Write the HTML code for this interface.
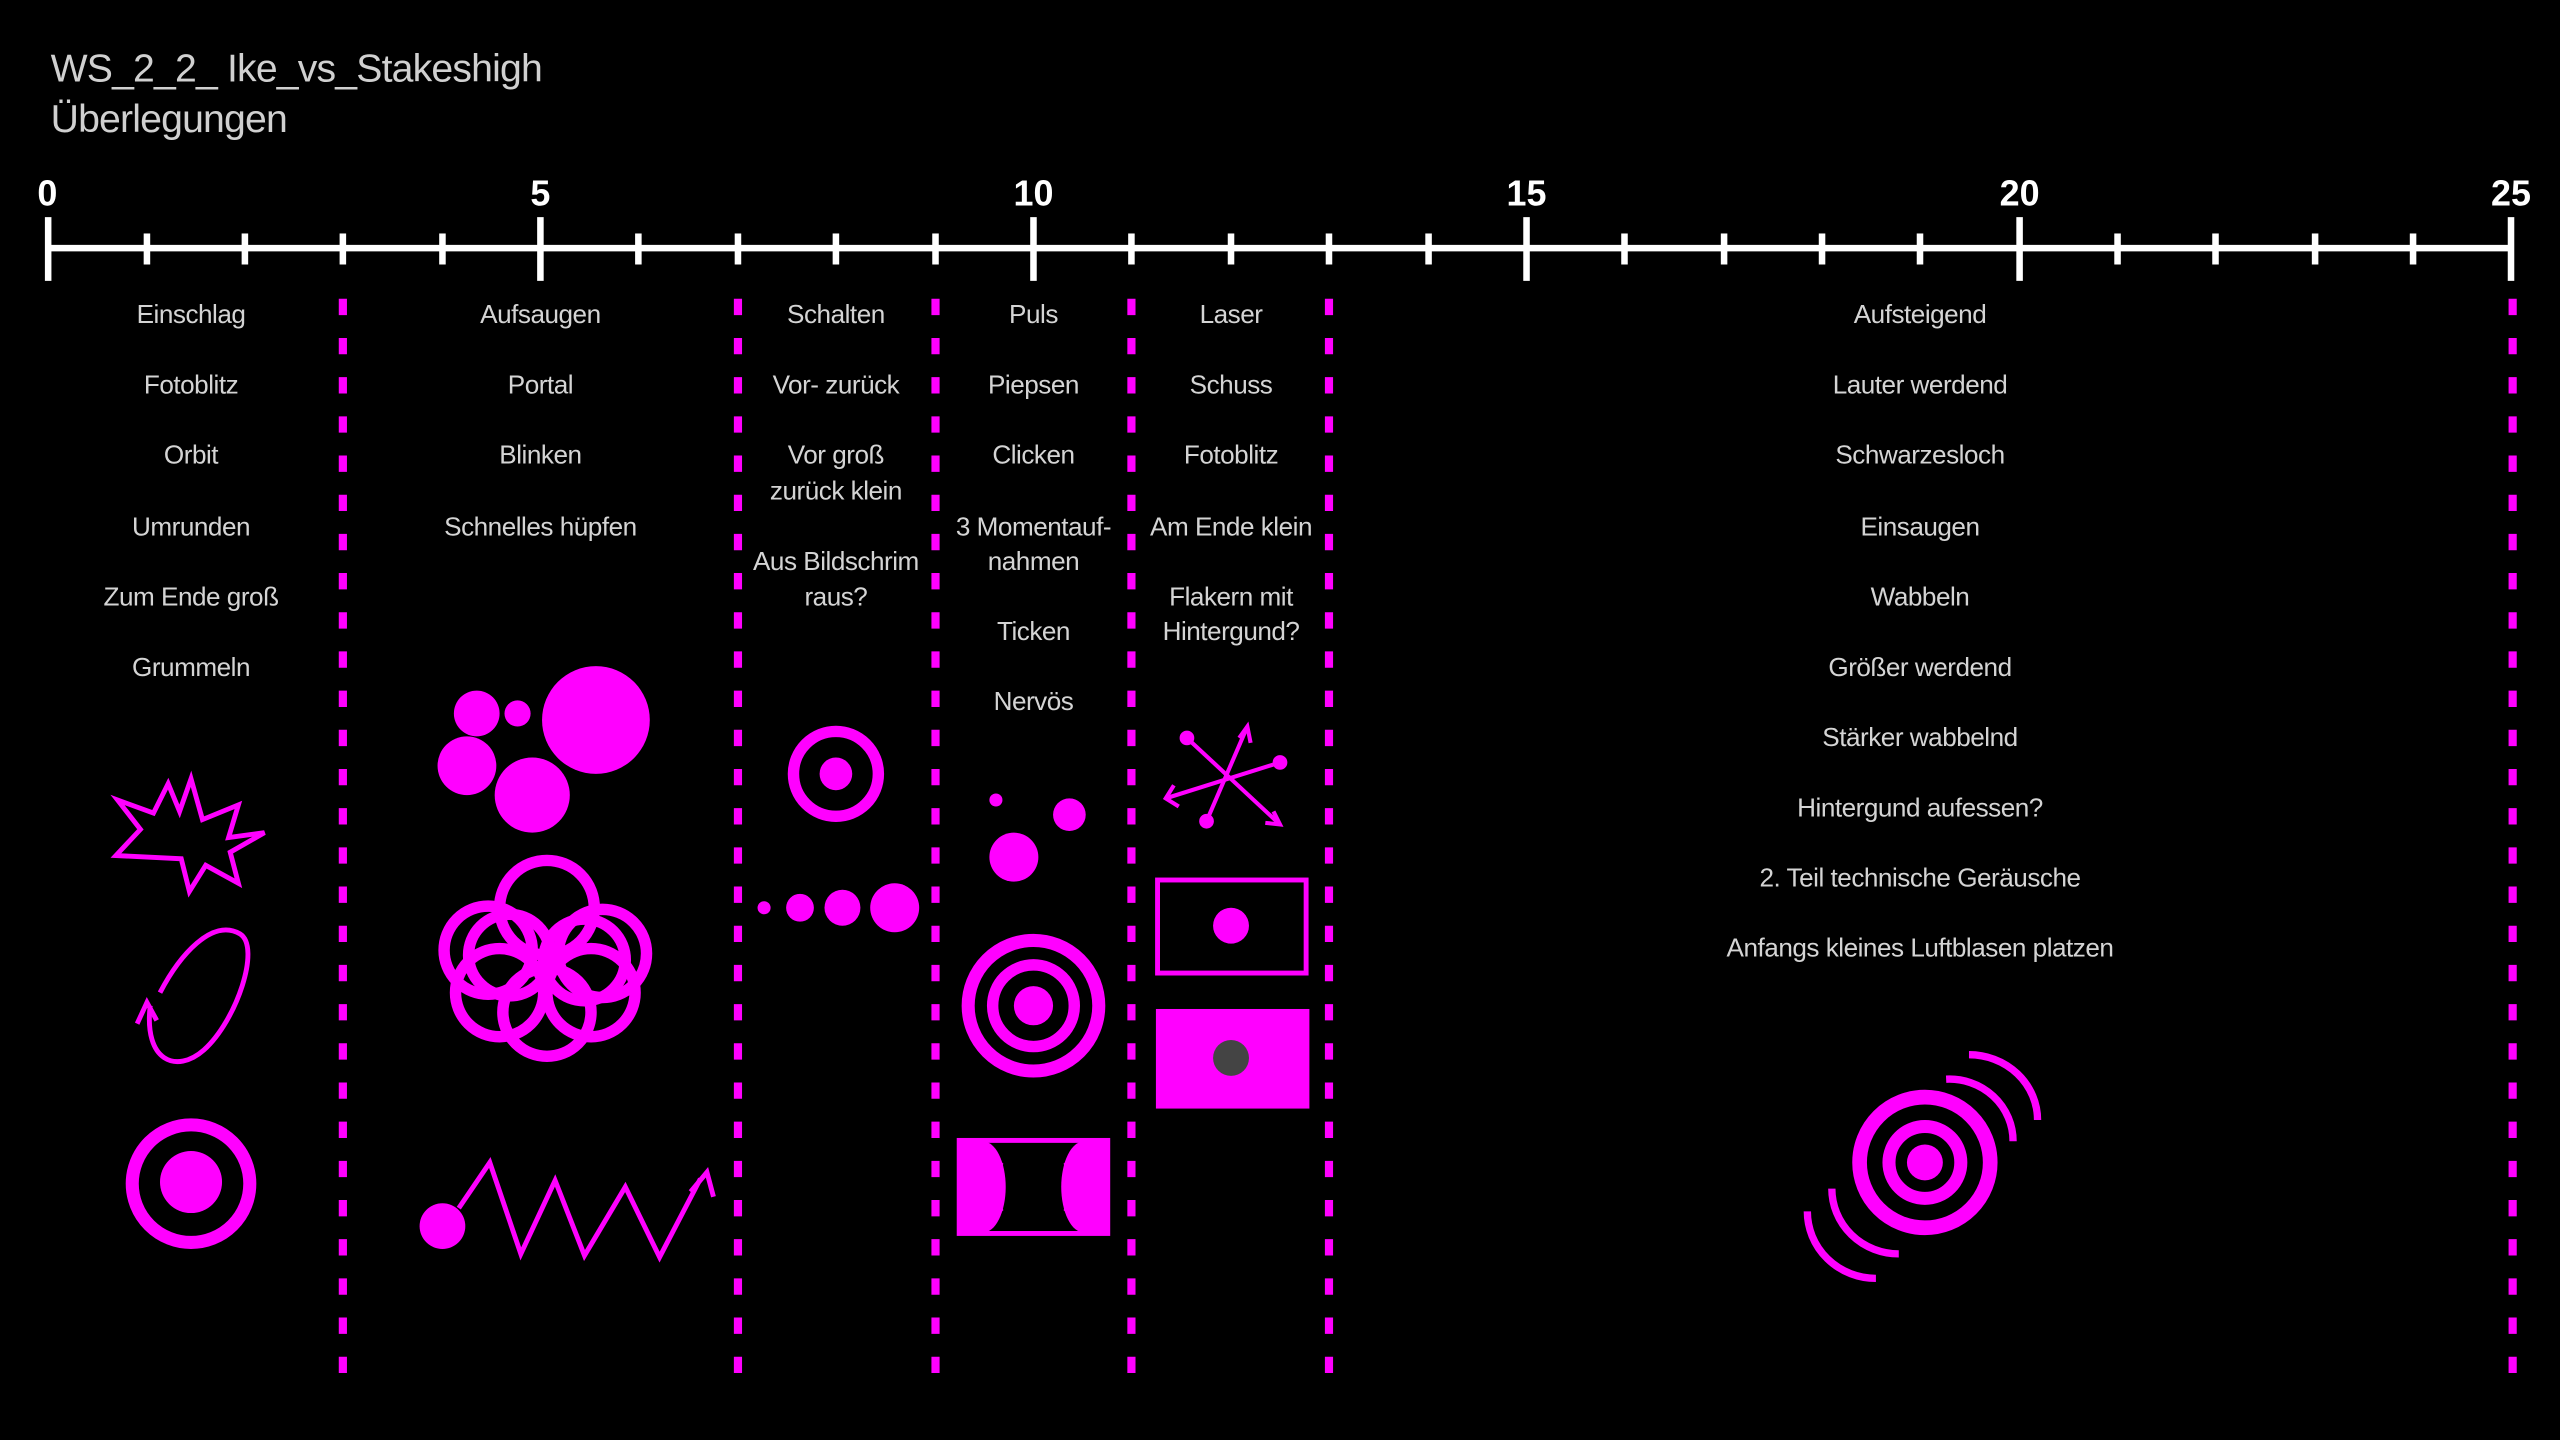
<!DOCTYPE html>
<html><head><meta charset="utf-8"><style>
html,body{margin:0;padding:0;background:#000;width:2560px;height:1440px;overflow:hidden}
svg{display:block}
text{font-family:"Liberation Sans",sans-serif}
.l{fill:#d4d4d4;font-size:16px;text-anchor:middle;letter-spacing:-0.3px}
.n{fill:#fff;font-size:22px;font-weight:bold;text-anchor:middle}
</style></head><body>
<svg width="2560" height="1440" viewBox="0 0 1568 882" xmlns="http://www.w3.org/2000/svg">
<rect width="1568" height="882" fill="#000"/>
<text x="31" y="50" fill="#d0d0d0" font-size="24" letter-spacing="-0.5">WS_2_2_ Ike_vs_Stakeshigh</text>
<text x="31" y="81" fill="#d0d0d0" font-size="24" letter-spacing="-0.5">Überlegungen</text>
<g stroke="#fff" stroke-width="4">
<line x1="29" y1="152" x2="1539" y2="152"/>
<line x1="29.5" y1="133" x2="29.5" y2="172"/><line x1="331" y1="133" x2="331" y2="172"/><line x1="633" y1="133" x2="633" y2="172"/><line x1="935" y1="133" x2="935" y2="172"/><line x1="1237" y1="133" x2="1237" y2="172"/><line x1="1538" y1="133" x2="1538" y2="172"/>
<line x1="90" y1="143" x2="90" y2="162"/><line x1="150" y1="143" x2="150" y2="162"/><line x1="210" y1="143" x2="210" y2="162"/><line x1="271" y1="143" x2="271" y2="162"/>
<line x1="391" y1="143" x2="391" y2="162"/><line x1="452" y1="143" x2="452" y2="162"/><line x1="512" y1="143" x2="512" y2="162"/><line x1="573" y1="143" x2="573" y2="162"/>
<line x1="693" y1="143" x2="693" y2="162"/><line x1="754" y1="143" x2="754" y2="162"/><line x1="814" y1="143" x2="814" y2="162"/><line x1="875" y1="143" x2="875" y2="162"/>
<line x1="995" y1="143" x2="995" y2="162"/><line x1="1056" y1="143" x2="1056" y2="162"/><line x1="1116" y1="143" x2="1116" y2="162"/><line x1="1176" y1="143" x2="1176" y2="162"/>
<line x1="1297" y1="143" x2="1297" y2="162"/><line x1="1357" y1="143" x2="1357" y2="162"/><line x1="1418" y1="143" x2="1418" y2="162"/><line x1="1478" y1="143" x2="1478" y2="162"/>
</g>
<text class="n" x="29" y="126">0</text><text class="n" x="331" y="126">5</text><text class="n" x="633" y="126">10</text><text class="n" x="935" y="126">15</text><text class="n" x="1237" y="126">20</text><text class="n" x="1538" y="126">25</text>
<g stroke="#ff00ff" stroke-width="5" stroke-dasharray="10 14">
<line x1="210" y1="183" x2="210" y2="855"/><line x1="452" y1="183" x2="452" y2="855"/><line x1="573" y1="183" x2="573" y2="855"/><line x1="693" y1="183" x2="693" y2="855"/><line x1="814" y1="183" x2="814" y2="855"/><line x1="1539" y1="183" x2="1539" y2="855"/>
</g>
<g>
<text class="l" x="117" y="198">Einschlag</text><text class="l" x="117" y="241">Fotoblitz</text><text class="l" x="117" y="284">Orbit</text><text class="l" x="117" y="328">Umrunden</text><text class="l" x="117" y="371">Zum Ende groß</text><text class="l" x="117" y="414">Grummeln</text>
<text class="l" x="331" y="198">Aufsaugen</text><text class="l" x="331" y="241">Portal</text><text class="l" x="331" y="284">Blinken</text><text class="l" x="331" y="328">Schnelles hüpfen</text>
<text class="l" x="512" y="198">Schalten</text><text class="l" x="512" y="241">Vor- zurück</text><text class="l" x="512" y="284">Vor groß</text><text class="l" x="512" y="306">zurück klein</text><text class="l" x="512" y="349">Aus Bildschrim</text><text class="l" x="512" y="371">raus?</text>
<text class="l" x="633" y="198">Puls</text><text class="l" x="633" y="241">Piepsen</text><text class="l" x="633" y="284">Clicken</text><text class="l" x="633" y="328">3 Momentauf-</text><text class="l" x="633" y="349">nahmen</text><text class="l" x="633" y="392">Ticken</text><text class="l" x="633" y="435">Nervös</text>
<text class="l" x="754" y="198">Laser</text><text class="l" x="754" y="241">Schuss</text><text class="l" x="754" y="284">Fotoblitz</text><text class="l" x="754" y="328">Am Ende klein</text><text class="l" x="754" y="371">Flakern mit</text><text class="l" x="754" y="392">Hintergund?</text>
<text class="l" x="1176" y="198">Aufsteigend</text><text class="l" x="1176" y="241">Lauter werdend</text><text class="l" x="1176" y="284">Schwarzesloch</text><text class="l" x="1176" y="328">Einsaugen</text><text class="l" x="1176" y="371">Wabbeln</text><text class="l" x="1176" y="414">Größer werdend</text><text class="l" x="1176" y="457">Stärker wabbelnd</text><text class="l" x="1176" y="500">Hintergund aufessen?</text><text class="l" x="1176" y="543">2. Teil technische Geräusche</text><text class="l" x="1176" y="586">Anfangs kleines Luftblasen platzen</text>
</g>
<polygon points="117,477 124,502 146,493 140,513 162,510 141,522 146,541 126,530 116,546 111,526 71,524 86,508 72,490 94,498 103,480 110,497" fill="none" stroke="#ff00ff" stroke-width="3"/>
<g fill="none" stroke="#ff00ff" stroke-width="3">
<path d="M98,608 C110,585 130,562 147,572 C160,580 145,625 125,643 C108,658 88,650 92,616"/>
<path d="M84,627 L90,614 L96,625"/>
</g>
<circle cx="117" cy="725" r="36" fill="none" stroke="#ff00ff" stroke-width="8"/>
<circle cx="117" cy="724" r="19" fill="#ff00ff"/>
<g fill="#ff00ff">
<circle cx="365" cy="441" r="33"/><circle cx="292" cy="437" r="14"/><circle cx="317" cy="437" r="8"/><circle cx="286" cy="469" r="18"/><circle cx="326" cy="487" r="23"/>
<circle cx="271" cy="751" r="14"/>
</g>
<g fill="none" stroke="#ff00ff" stroke-width="7">
<circle cx="335" cy="556" r="29"/><circle cx="299" cy="582" r="27"/><circle cx="369" cy="584" r="27"/><circle cx="306" cy="608" r="27"/><circle cx="362" cy="608" r="27"/><circle cx="335" cy="620" r="27"/><circle cx="312" cy="585" r="25"/><circle cx="358" cy="588" r="25"/>
</g>
<g fill="none" stroke="#ff00ff" stroke-width="3">
<polyline points="281,740 300,712 319,768 340,723 358,769 383,727 404,770 429,722"/>
<path d="M423,730 L433,718 L437,733"/>
</g>
<circle cx="512" cy="474" r="26" fill="none" stroke="#ff00ff" stroke-width="7"/>
<circle cx="512" cy="474" r="10" fill="#ff00ff"/>
<g fill="#ff00ff"><circle cx="468" cy="556" r="4"/><circle cx="490" cy="556" r="8.5"/><circle cx="516" cy="556" r="11"/><circle cx="548" cy="556" r="15"/></g>
<g fill="#ff00ff"><circle cx="610" cy="490" r="4"/><circle cx="655" cy="499" r="10"/><circle cx="621" cy="525" r="15"/></g>
<circle cx="633" cy="616" r="40" fill="none" stroke="#ff00ff" stroke-width="8"/>
<circle cx="633" cy="616" r="25" fill="none" stroke="#ff00ff" stroke-width="7"/>
<circle cx="633" cy="616" r="12" fill="#ff00ff"/>
<rect x="586" y="697" width="94" height="60" fill="#ff00ff"/>
<polygon points="600,700 666,700 650,714 616,714" fill="#000"/>
<polygon points="600,754 666,754 650,740 616,740" fill="#000"/>
<ellipse cx="633" cy="727" rx="22" ry="26" fill="#000"/>
<ellipse cx="602" cy="727" rx="14" ry="28" fill="#ff00ff"/>
<ellipse cx="664" cy="727" rx="14" ry="28" fill="#ff00ff"/>
<g stroke="#ff00ff" stroke-width="2.5" fill="none">
<line x1="727" y1="452" x2="784" y2="505"/><path d="M775,504 L784,505 L780,497"/>
<line x1="784" y1="467" x2="714" y2="489"/><path d="M719,481 L714,489 L722,494"/>
<line x1="739" y1="503" x2="764" y2="445"/><path d="M759,452 L764,445 L766,455"/>
</g>
<g fill="#ff00ff"><circle cx="727" cy="452" r="4.5"/><circle cx="784" cy="467" r="4.5"/><circle cx="739" cy="503" r="4.5"/></g>
<rect x="709" y="539" width="91" height="57" fill="none" stroke="#ff00ff" stroke-width="3"/>
<circle cx="754" cy="567" r="11" fill="#ff00ff"/>
<rect x="708" y="618" width="94" height="61" fill="#ff00ff"/>
<circle cx="754" cy="648" r="11" fill="#444"/>
<circle cx="1179" cy="712" r="40" fill="none" stroke="#ff00ff" stroke-width="9"/>
<circle cx="1179" cy="712" r="22" fill="none" stroke="#ff00ff" stroke-width="8"/>
<circle cx="1179" cy="712" r="11" fill="#ff00ff"/>
<g fill="none" stroke="#ff00ff" stroke-width="4.5">
<path d="M1206,646 A42,40 0 0 1 1248,686"/>
<path d="M1192,661 A39,38 0 0 1 1233,699"/>
<path d="M1107,742 A42,41 0 0 0 1149,783"/>
<path d="M1122,728 A41,40 0 0 0 1163,768"/>
</g>
</svg>
</body></html>
